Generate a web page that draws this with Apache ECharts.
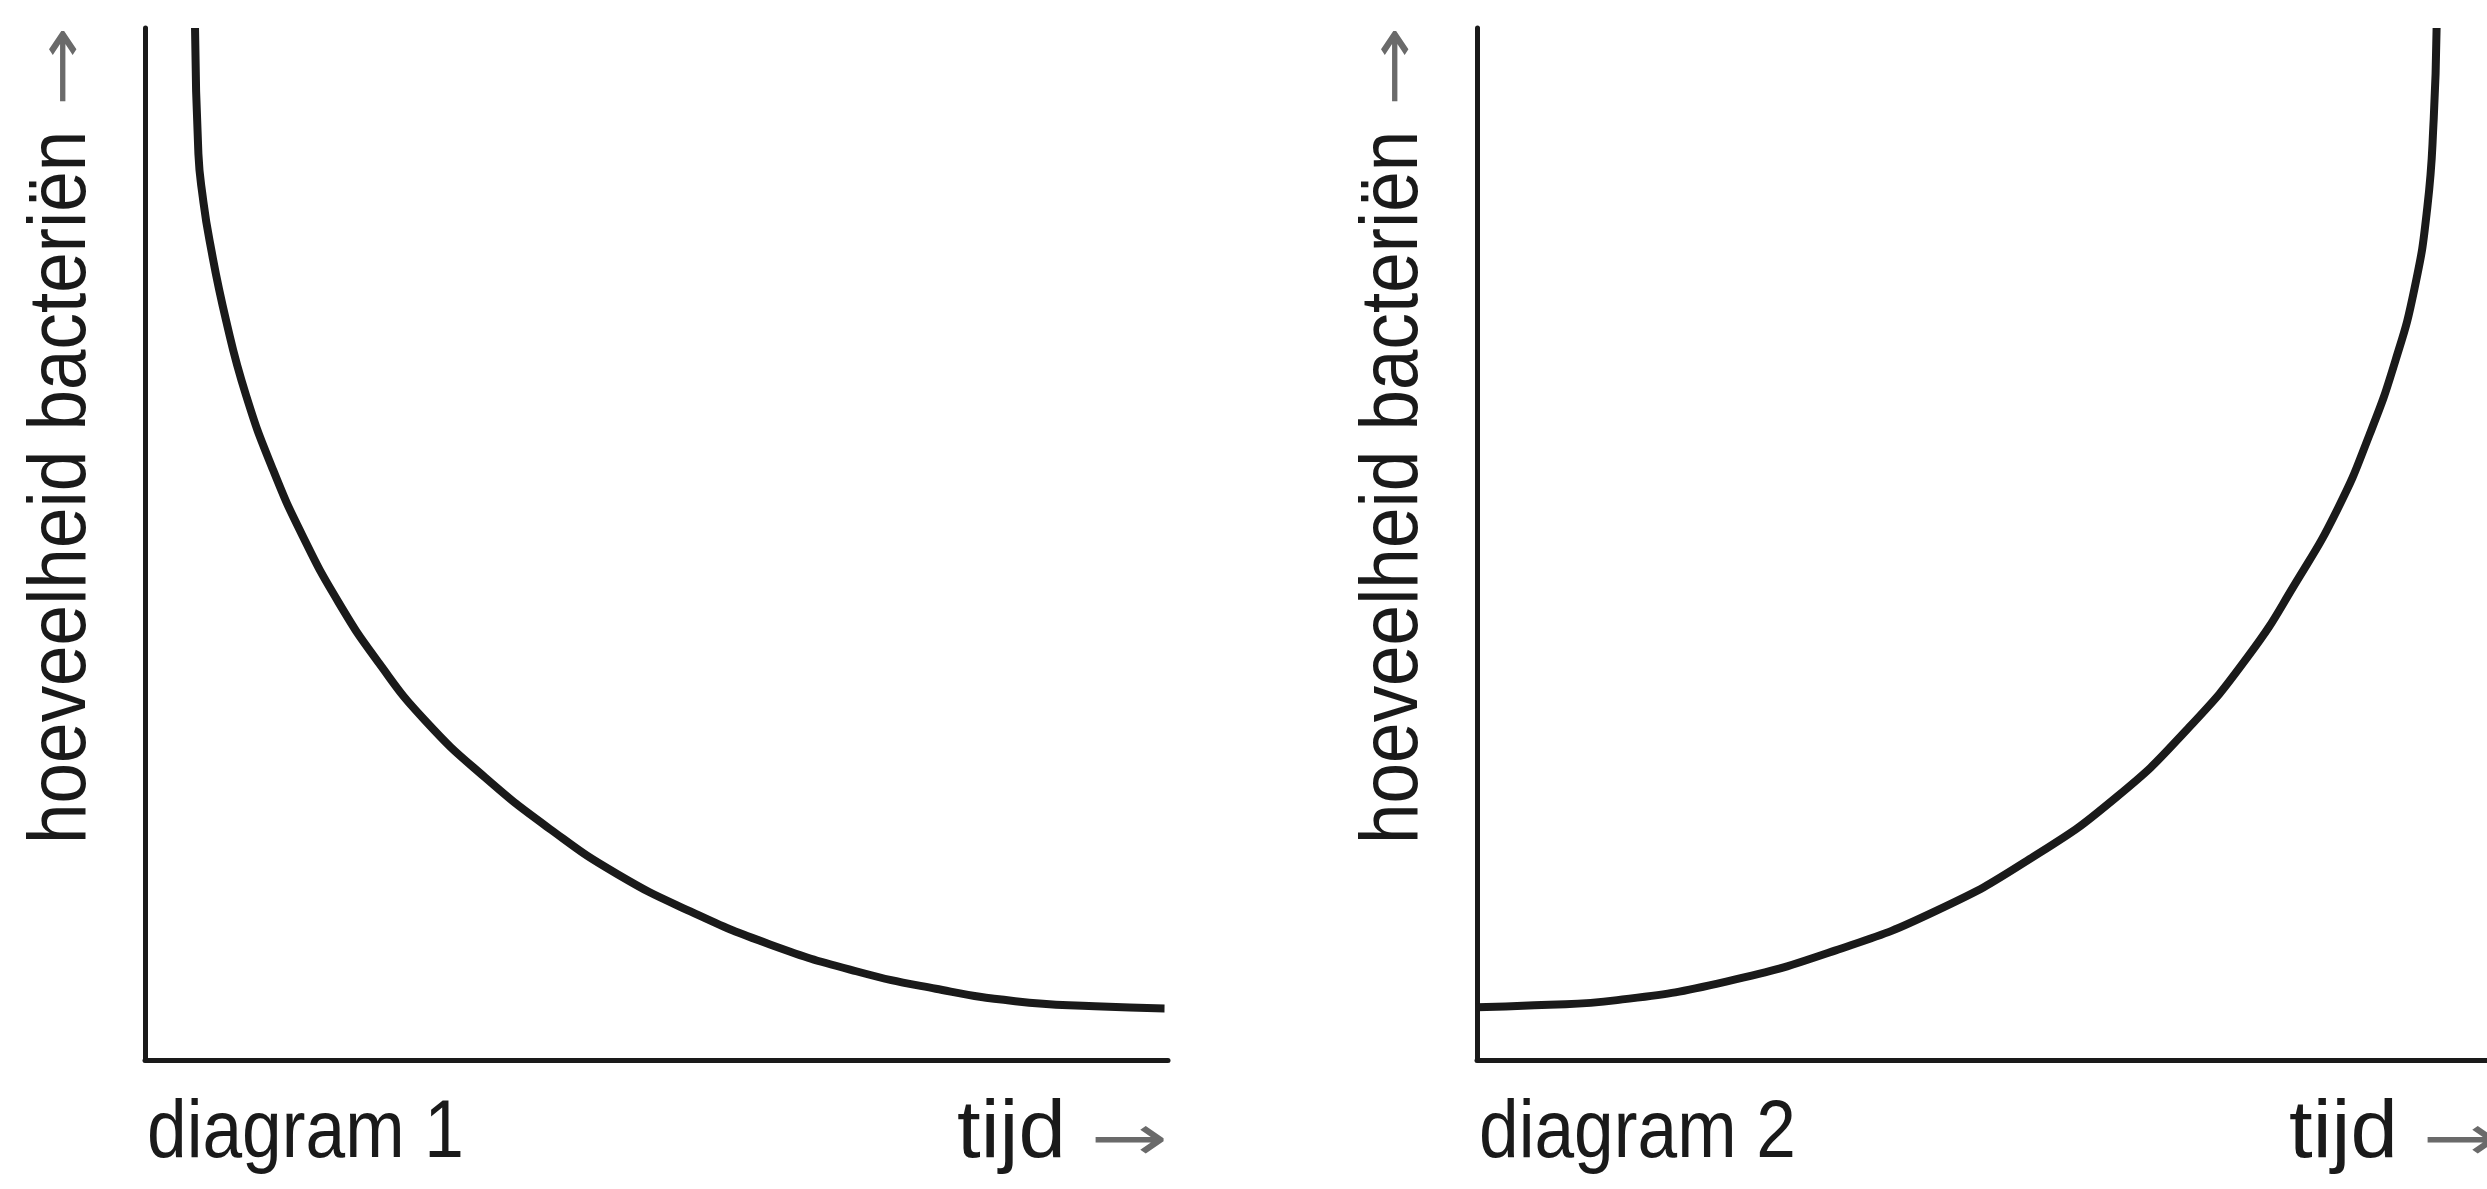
<!DOCTYPE html>
<html><head><meta charset="utf-8">
<script src="https://cdn.jsdelivr.net/npm/echarts@6/dist/echarts.min.js"></script>
<style>html,body{margin:0;padding:0;background:#fff}#c{width:2487px;height:1189px}</style>
</head><body><div id="c"></div>
<script>
// diagram 1: decreasing amount of bacteria over time
const time1 = [4.89, 5.22, 5.65, 6.31, 7.94, 9.88, 12.47, 15.40, 18.95, 22.84, 27.38, 33.22, 39.70, 46.19, 53.31, 61.09, 69.52, 77.30, 85.07, 92.86, 99.66];
const amount1 = [100, 87.8, 83.6, 79.4, 71.6, 64.4, 57.3, 50.8, 44.3, 38.5, 32.9, 27.4, 22.3, 18.0, 14.4, 11.2, 8.6, 6.9, 5.7, 5.2, 5.0];
// diagram 2: increasing amount of bacteria over time
const time2 = [0, 5.67, 13.88, 24.67, 35.44, 45.55, 55.10, 63.34, 70.28, 76.34, 81.10, 85.21, 88.37, 90.91, 92.83, 94.09, 94.72, 95.01];
const amount2 = [5.1, 5.3, 5.8, 7.6, 10.6, 14.5, 19.7, 25.5, 32.0, 39.1, 46.3, 53.4, 60.6, 67.7, 74.8, 82.6, 91.1, 100];

const yAxisLabel = 'hoeveelheid bacteriën';
const xAxisLabel = 'tijd';
const arrowGlyph = '→';
const diagramNames = ['diagram 1', 'diagram 2'];

const FONT = '"Liberation Sans", Arial, sans-serif';
const ARROW_FONT = '"DejaVu Sans", sans-serif';
const FS = 81;
const SX = 0.88;
const INK = '#1a1a1a';
const ARROW = '#6a6a6a';

const gridLefts = [145, 1477];

function pairs(xs, ys) { return xs.map((x, i) => [x, ys[i]]); }

const axisStyle = { show: true, lineStyle: { color: INK, width: 5 } };
function ax(i) {
  return { type: 'value', gridIndex: i, min: 0, max: 100, axisLine: axisStyle,
    axisTick: { show: false }, axisLabel: { show: false }, splitLine: { show: false } };
}

const graphics = [];
gridLefts.forEach((gl, i) => {
  const off = gl - 145;
  graphics.push({ type: 'text', x: 63 + off, y: 844, rotation: Math.PI / 2, scaleX: 0.9,
    style: { text: yAxisLabel, font: FS + 'px ' + FONT, fill: INK, textAlign: 'left', textVerticalAlign: 'middle' } });
  graphics.push({ type: 'text', x: 66 + off, y: 107, rotation: Math.PI / 2, scaleX: 1.5,
    style: { text: arrowGlyph, font: '64px ' + ARROW_FONT, fill: ARROW, textAlign: 'left', textVerticalAlign: 'middle' } });
  graphics.push({ type: 'text', x: gl + 2, y: 1135, scaleX: SX,
    style: { text: diagramNames[i], font: FS + 'px ' + FONT, fill: INK, textAlign: 'left', textVerticalAlign: 'middle' } });
  graphics.push({ type: 'text', x: 957 + off, y: 1135, scaleX: 1.05,
    style: { text: xAxisLabel, font: FS + 'px ' + FONT, fill: INK, textAlign: 'left', textVerticalAlign: 'middle' } });
  graphics.push({ type: 'text', x: 1090 + off, y: 1143, scaleX: 1.45,
    style: { text: arrowGlyph, font: '64px ' + ARROW_FONT, fill: ARROW, textAlign: 'left', textVerticalAlign: 'middle' } });
});

const chart = echarts.init(document.getElementById('c'), null, { renderer: 'canvas' });
chart.setOption({
  backgroundColor: '#ffffff',
  animation: false,
  grid: [
    { left: gridLefts[0], top: 28, width: 1023, height: 1032 },
    { left: gridLefts[1], top: 28, width: 1023, height: 1032 }
  ],
  xAxis: [ax(0), ax(1)],
  yAxis: [ax(0), ax(1)],
  series: [
    { type: 'line', xAxisIndex: 0, yAxisIndex: 0, data: pairs(time1, amount1), smooth: 0.5,
      showSymbol: false, lineStyle: { color: INK, width: 8 } },
    { type: 'line', xAxisIndex: 1, yAxisIndex: 1, data: pairs(time2, amount2), smooth: 0.5,
      showSymbol: false, lineStyle: { color: INK, width: 8 } }
  ],
  graphic: graphics
});
</script>
</body></html>
